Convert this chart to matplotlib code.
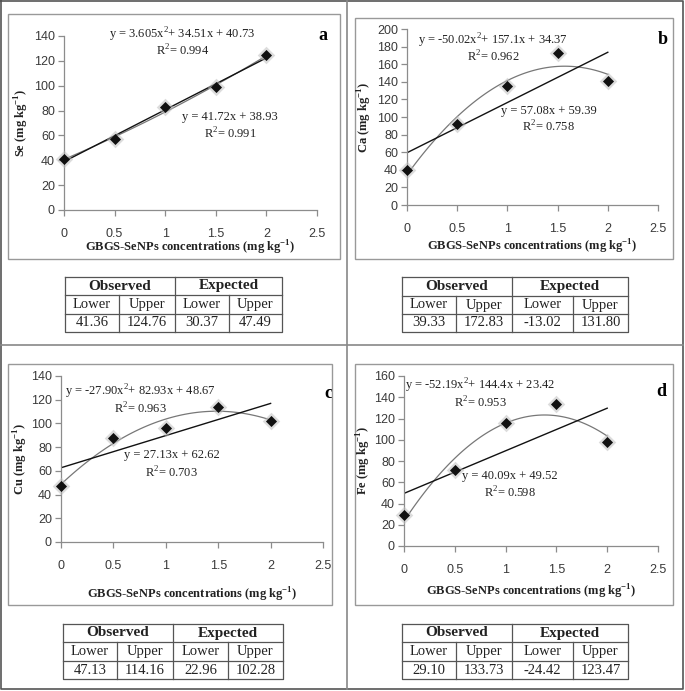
import matplotlib.pyplot as plt
from matplotlib.patches import Rectangle
import numpy as np

W, H = 685, 691

conc = [0, 0.5, 1, 1.5, 2]

se = [41.36, 57.0, 82.6, 98.7, 124.76]
ca = [39.33, 91.7, 135.6, 172.83, 141.3]
cu = [47.13, 88.0, 96.0, 114.16, 101.8]
fe = [29.10, 71.5, 116.0, 133.73, 98.2]

quad_coef = {'a': [3.605, 34.51, 40.73], 'b': [-50.02, 157.1, 34.37],
             'c': [-27.90, 82.93, 48.67], 'd': [-52.19, 144.4, 23.42]}
lin_coef = {'a': [41.72, 38.93], 'b': [57.08, 59.39],
            'c': [27.13, 62.62], 'd': [40.09, 49.52]}
quad_r2 = {'a': '0.994', 'b': '0.962', 'c': '0.963', 'd': '0.953'}
lin_r2 = {'a': '0.991', 'b': '0.758', 'c': '0.703', 'd': '0.598'}
quad_label = {'a': 'y = 3.605x$^2$+ 34.51x + 40.73',
              'b': 'y = -50.02x$^2$+ 157.1x + 34.37',
              'c': 'y = -27.90x$^2$+ 82.93x + 48.67',
              'd': 'y = -52.19x$^2$+ 144.4x + 23.42'}
lin_label = {'a': 'y = 41.72x + 38.93', 'b': 'y = 57.08x + 59.39',
             'c': 'y = 27.13x + 62.62', 'd': 'y = 40.09x + 49.52'}
ylabels = {'a': 'Se (mg kg$^{\\mathbf{-1}}$)', 'b': 'Ca (mg kg$^{\\mathbf{-1}}$)',
           'c': 'Cu (mg kg$^{\\mathbf{-1}}$)', 'd': 'Fe (mg kg$^{\\mathbf{-1}}$)'}

observed_lower = ['41.36', '39.33', '47.13', '29.10']
observed_upper = ['124.76', '172.83', '114.16', '133.73']
expected_lower = ['30.37', '-13.02', '22.96', '-24.42']
expected_upper = ['47.49', '131.80', '102.28', '123.47']

plt.rcParams['mathtext.fontset'] = 'custom'
plt.rcParams['mathtext.rm'] = 'Liberation Serif'
plt.rcParams['mathtext.bf'] = 'Liberation Serif:bold'

fig = plt.figure(figsize=(W / 100, H / 100), dpi=100)


def fbox(x0, y0, x1, y1):
    # pixel box (top-left origin) -> figure fraction rect
    return [x0 / W, 1 - y1 / H, (x1 - x0) / W, (y1 - y0) / H]


def fline(xs, ys, **kw):
    fig.add_artist(plt.Line2D([x / W for x in xs], [1 - y / H for y in ys],
                              transform=fig.transFigure, **kw))


# outer frame and dividers
fline([1, 683, 683, 1, 1], [1, 1, 689, 689, 1], color='#555555', lw=1.2)
fline([347, 347], [1, 689], color='#888888', lw=1.2)
fline([1, 683], [345, 345], color='#888888', lw=1.2)

# text positions in data coords: (x, eq y, R2 y)
panels = [
    dict(k='a', y=se, box=(8, 14, 340, 259), ax=(64, 36, 317, 210), ymax=140,
         yl_x=22, xl_y=248,
         qt=(1.17, 141, 128), lt=(1.64, 75, 61), let=(2.56, 140),
         tab=(65, 277, 282, 332), cols=[119, 175, 229], rows=[295, 314]),
    dict(k='b', y=ca, box=(355, 18, 673, 259), ax=(407, 29, 658, 205), ymax=200,
         yl_x=365, xl_y=247,
         qt=(0.86, 186, 168.5), lt=(1.41, 106.5, 88.5), let=(2.55, 187.5),
         tab=(402, 277, 628, 332), cols=[456, 512, 573], rows=[296, 314]),
    dict(k='c', y=cu, box=(8, 364, 332, 605), ax=(61, 376, 323, 542), ymax=140,
         yl_x=21, xl_y=595,
         qt=(0.754, 127, 112.5), lt=(1.056, 73, 58.5), let=(2.55, 125.6),
         tab=(63, 624, 283, 679), cols=[117, 173, 228], rows=[642, 661]),
    dict(k='d', y=fe, box=(355, 364, 673, 605), ax=(404, 376, 658, 546), ymax=160,
         yl_x=364, xl_y=592,
         qt=(0.75, 151, 134.5), lt=(1.04, 66, 50), let=(2.53, 145),
         tab=(402, 624, 628, 679), cols=[456, 512, 573], rows=[642, 661]),
]

serif = 'Liberation Serif'
sans = 'Liberation Sans'
tcol = '#222222'

for i, p in enumerate(panels):
    k = p['k']
    bx = p['box']
    fig.add_artist(Rectangle((bx[0] / W, 1 - bx[3] / H), (bx[2] - bx[0]) / W,
                             (bx[3] - bx[1]) / H, transform=fig.transFigure,
                             fill=False, ec='#999999', lw=1.0))
    ax = fig.add_axes(fbox(*p['ax']))
    ax.set_xlim(0, 2.5)
    ax.set_ylim(0, p['ymax'])
    ax.set_xticks([0, 0.5, 1, 1.5, 2, 2.5])
    ax.set_xticklabels(['0', '0.5', '1', '1.5', '2', '2.5'])
    ax.set_yticks(np.arange(0, p['ymax'] + 1, 20))
    for s in ['top', 'right']:
        ax.spines[s].set_visible(False)
    for s in ['left', 'bottom']:
        ax.spines[s].set_color('#8c8c8c')
        ax.spines[s].set_linewidth(0.9)
    ax.tick_params(colors='#8c8c8c', labelcolor='#3a3a3a', length=4, width=0.9,
                   labelsize=9, pad=2.5)
    ax.tick_params(axis='x', pad=9)
    for lab in ax.get_xticklabels() + ax.get_yticklabels():
        lab.set_fontfamily(sans)

    xs = np.linspace(0, 2, 100)
    a2, a1, a0 = quad_coef[k]
    b1, b0 = lin_coef[k]
    ax.plot(xs, a2 * xs ** 2 + a1 * xs + a0, color='#777777', lw=0.9, zorder=2)
    ax.plot(xs, b1 * xs + b0, color='#111111', lw=1.0, zorder=2)
    ax.scatter(conc, p['y'], marker='D', s=80, color='#bbbbbb', alpha=0.5,
               lw=0, zorder=3, clip_on=False)
    ax.scatter(conc, p['y'], marker='D', s=32, color='#111111', lw=0, zorder=4,
               clip_on=False)

    qx, qy, qry = p['qt']
    ax.text(qx, qy, quad_label[k], ha='center', va='center', fontsize=9,
            family=serif, color=tcol)
    ax.text(qx, qry, 'R$^2$= ' + quad_r2[k], ha='center', va='center',
            fontsize=9, family=serif, color=tcol)
    lx, ly, lry = p['lt']
    ax.text(lx, ly, lin_label[k], ha='center', va='center', fontsize=9,
            family=serif, color=tcol)
    ax.text(lx, lry, 'R$^2$= ' + lin_r2[k], ha='center', va='center',
            fontsize=9, family=serif, color=tcol)
    ax.text(p['let'][0], p['let'][1], k, ha='center', va='center', fontsize=13,
            family=serif, fontweight='bold', clip_on=False)

    cy = (p['ax'][1] + p['ax'][3]) / 2
    fig.text(p['yl_x'] / W, 1 - cy / H, ylabels[k], rotation=90, ha='center',
             va='center', fontsize=9, family=serif, fontweight='bold',
             color=tcol)
    cx = (p['ax'][0] + p['ax'][2]) / 2
    fig.text(cx / W, 1 - p['xl_y'] / H,
             'GBGS-SeNPs concentrations (mg kg$^{\\mathbf{-1}}$)',
             ha='center', va='center', fontsize=9, family=serif,
             fontweight='bold', color=tcol)

    # table
    tl, tt, tr, tb = p['tab']
    c1, c2, c3 = p['cols']
    r1, r2 = p['rows']
    lc = dict(color='#555555', lw=0.9)
    fline([tl, tr, tr, tl, tl], [tt, tt, tb, tb, tt], **lc)
    fline([tl, tr], [r1, r1], **lc)
    fline([tl, tr], [r2, r2], **lc)
    fline([c2, c2], [tt, tb], **lc)
    fline([c1, c1], [r1, tb], **lc)
    fline([c3, c3], [r1, tb], **lc)
    hy = (tt + r1) / 2
    fig.text((tl + c2) / 2 / W, 1 - hy / H, 'Observed', ha='center', va='center',
             fontsize=11, family=serif, fontweight='bold', color=tcol)
    fig.text((c2 + tr) / 2 / W, 1 - hy / H, 'Expected', ha='center', va='center',
             fontsize=11, family=serif, fontweight='bold', color=tcol)
    edges = [tl, c1, c2, c3, tr]
    sub = ['Lower', 'Upper', 'Lower', 'Upper']
    vals = [observed_lower[i], observed_upper[i], expected_lower[i], expected_upper[i]]
    for j in range(4):
        mx = (edges[j] + edges[j + 1]) / 2 / W
        fig.text(mx, 1 - (r1 + r2) / 2 / H, sub[j], ha='center', va='center',
                 fontsize=10.5, family=serif, color=tcol)
        fig.text(mx, 1 - (r2 + tb) / 2 / H, vals[j], ha='center', va='center',
                 fontsize=10.5, family=serif, color=tcol)

fig.savefig('out.png', dpi=100, facecolor='white')
